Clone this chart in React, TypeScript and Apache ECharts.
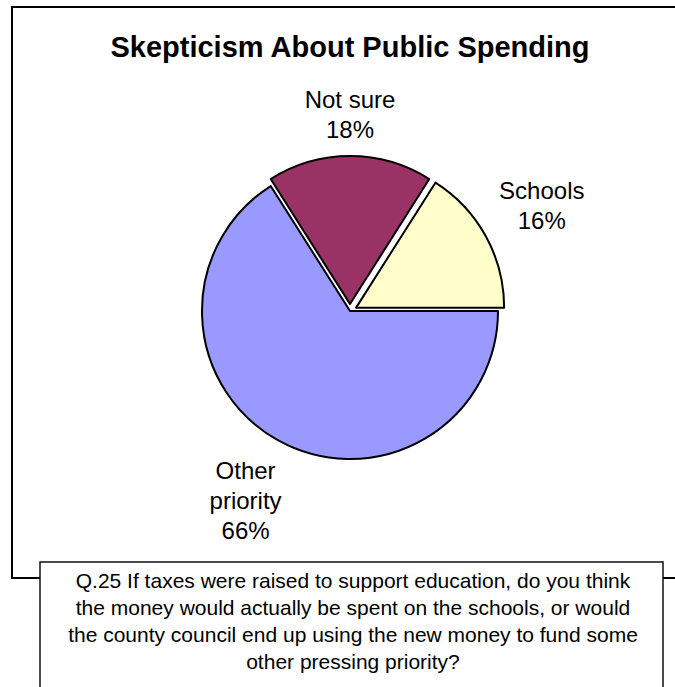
import React, { useEffect, useRef } from "react";
import * as echarts from "echarts";

const categories = ["Schools", "Not sure", "Other priority"];
const labelNames = ["Schools", "Not sure", "Other\npriority"];
const values = [16, 18, 66];
const exploded = [true, true, false];
const colors = ["#FFFFCC", "#993366", "#9999FF"];
const titleText = "Skepticism About Public Spending";
const captionLines = [
  "Q.25 If taxes were raised to support education, do you think",
  "the money would actually be spent on the schools, or would",
  "the county council end up using the new money to fund some",
  "other pressing priority?",
];

const FONT = "'Liberation Sans', Arial, Helvetica, sans-serif";
const CX = 350;
const CY = 311;
const R = 148;
const OFFSET = 7;
const GAP = 12;

export default function App() {
  const ref = useRef<HTMLDivElement>(null);
  useEffect(() => {
    if (!ref.current) return;
    const chart = echarts.init(ref.current, null, { renderer: "svg" });
    const total = values.reduce((a, b) => a + b, 0);
    const data = categories.map((name, i) => ({
      name,
      value: values[i],
      selected: exploded[i],
      itemStyle: { color: colors[i] },
    }));
    const labelData = categories.map((name, i) => ({ name, value: values[i] }));

    chart.setOption({
      animation: false,
      backgroundColor: "#ffffff",
      graphic: [
        {
          type: "rect",
          z: 1,
          shape: { x: 12, y: 7, width: 700, height: 571 },
          style: { fill: "none", stroke: "#000", lineWidth: 2 },
          silent: true,
        },
        {
          type: "text",
          z: 5,
          style: {
            text: titleText,
            x: 350,
            y: 47,
            align: "center",
            verticalAlign: "middle",
            font: `bold 29px ${FONT}`,
            fill: "#000",
          },
          silent: true,
        },
        {
          type: "rect",
          z: 10,
          shape: { x: 40, y: 562, width: 623, height: 140 },
          style: { fill: "#fff", stroke: "#111", lineWidth: 1.5 },
          silent: true,
        },
        {
          type: "text",
          z: 11,
          style: {
            text: captionLines.join("\n"),
            x: 353,
            y: 567,
            align: "center",
            verticalAlign: "top",
            font: `21px ${FONT}`,
            lineHeight: 27,
            fill: "#000",
          },
          silent: true,
        },
      ],
      series: [
        {
          type: "pie",
          z: 3,
          center: [CX, CY],
          radius: R,
          startAngle: 0,
          clockwise: false,
          selectedMode: "multiple",
          selectedOffset: OFFSET,
          avoidLabelOverlap: false,
          silent: true,
          emphasis: { disabled: true, scale: false },
          label: { show: false },
          labelLine: { show: false },
          itemStyle: { borderColor: "#000", borderWidth: 2 },
          data,
        },
        {
          type: "pie",
          z: 4,
          center: [CX, CY],
          radius: R,
          startAngle: 0,
          clockwise: false,
          avoidLabelOverlap: false,
          silent: true,
          minShowLabelAngle: 0,
          emphasis: { disabled: true, scale: false },
          itemStyle: { color: "rgba(0,0,0,0)", borderWidth: 0 },
          label: {
            show: true,
            position: "outside",
            color: "#000",
            fontFamily: FONT,
            fontSize: 24,
            lineHeight: 30,
            align: "center",
            formatter: (p: any) => `${labelNames[p.dataIndex]}\n${p.value}%`,
          },
          labelLine: { show: false },
          labelLayout: (params: any) => {
            const i = params.dataIndex;
            let before = 0;
            for (let k = 0; k < i; k++) before += values[k];
            const mid = ((before + values[i] / 2) / total) * 2 * Math.PI;
            const c = Math.cos(mid);
            const s = Math.sin(mid);
            const w = params.labelRect.width;
            const h = params.labelRect.height;
            const proj = (Math.abs(c) * w) / 2 + (Math.abs(s) * h) / 2;
            const D = R + (exploded[i] ? OFFSET : 0) + GAP + proj;
            return {
              x: CX + c * D,
              y: CY - s * D,
              align: "center",
              verticalAlign: "middle",
            };
          },
          data: labelData,
        },
      ],
    });
    return () => chart.dispose();
  }, []);
  return (
    <div
      ref={ref}
      style={{ position: "fixed", left: 0, top: 0, width: 675, height: 687 }}
    />
  );
}
